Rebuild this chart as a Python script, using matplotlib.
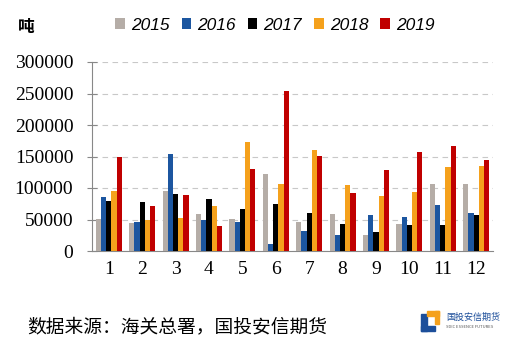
import numpy as np
import matplotlib.pyplot as plt
from matplotlib.patches import Rectangle

months = [str(m) for m in range(1, 13)]
years = ['2015', '2016', '2017', '2018', '2019']
v2015 = [50800, 45000, 95200, 58300, 51300, 121700, 46500, 58700, 25900, 43400, 105900, 105900]
v2016 = [85200, 46500, 153500, 49200, 46500, 10600, 31200, 25900, 57100, 53400, 73000, 60300]
v2017 = [79800, 77800, 90500, 82000, 66200, 75100, 60300, 42300, 30200, 41300, 40700, 57600]
v2018 = [95200, 49200, 51900, 71900, 173500, 105900, 160800, 105300, 86800, 93700, 133300, 135400]
v2019 = [149200, 71400, 88400, 40200, 130700, 254000, 150800, 91500, 128000, 157100, 166700, 144900]
colors = ['#B5ADA7', '#1C56A0', '#000000', '#F5A11C', '#C00000']

plt.rcParams['font.family'] = ['Noto Sans CJK SC', 'DejaVu Sans']

fig = plt.figure(figsize=(5.17, 3.6), dpi=100)
ax = fig.add_axes([92 / 517, 1 - 251 / 360, 401 / 517, 189 / 360])

x = np.arange(len(months))
w = 0.156
series = [v2015, v2016, v2017, v2018, v2019]
for i, (vals, c, yr) in enumerate(zip(series, colors, years)):
    ax.bar(x + (i - 2) * w, vals, width=w, color=c, label=yr, zorder=3)

ax.set_xlim(-0.5, 11.5)
ax.set_ylim(0, 300000)
ax.set_yticks(range(0, 300001, 50000))
ax.set_xticks(x)
ax.set_xticklabels(months)
for lab in ax.get_xticklabels() + ax.get_yticklabels():
    lab.set_family('Liberation Serif')
    lab.set_fontsize(14)
ax.tick_params(axis='x', length=0, pad=7)
ax.tick_params(axis='y', direction='inout', length=7, color='#888888', pad=10)
ax.yaxis.grid(True, linestyle=(0, (5, 4)), color='#C8C8C8', linewidth=0.8, zorder=0)
for s in ['top', 'right']:
    ax.spines[s].set_visible(False)
for s in ['left', 'bottom']:
    ax.spines[s].set_color('#888888')

leg = fig.legend(loc='center', bbox_to_anchor=(275 / 517, 1 - 25 / 360), ncol=5,
                 frameon=False, handlelength=0.55, handleheight=0.55, handletextpad=0.35,
                 columnspacing=0.7, prop={'family': 'Liberation Sans', 'style': 'italic', 'size': 12.5})

fig.text(18 / 517, 1 - 27 / 360, '吨', fontsize=12, fontweight='bold', va='center')
fig.text(27 / 517, 1 - 327 / 360, '数据来源：海关总署，国投安信期货', fontsize=13.5, va='center')

# logo
tf = fig.transFigure
fig.patches.append(Rectangle((421 / 517, 1 - 331 / 360), 6 / 517, 17 / 360, transform=tf, color='#1C4E9A'))
fig.patches.append(Rectangle((421 / 517, 1 - 331 / 360), 14 / 517, 5 / 360, transform=tf, color='#1C4E9A'))
fig.patches.append(Rectangle((427 / 517, 1 - 316 / 360), 12 / 517, 5 / 360, transform=tf, color='#F5A11C'))
fig.patches.append(Rectangle((435 / 517, 1 - 324 / 360), 4 / 517, 13 / 360, transform=tf, color='#F5A11C'))
fig.text(446 / 517, 1 - 317 / 360, '国投安信期货', fontsize=6.5, color='#1C4E9A', va='center')
fig.text(446 / 517, 1 - 327 / 360, 'SDIC ESSENCE FUTURES', fontsize=3, color='#555555', va='center')

fig.savefig('out.png', dpi=100)
